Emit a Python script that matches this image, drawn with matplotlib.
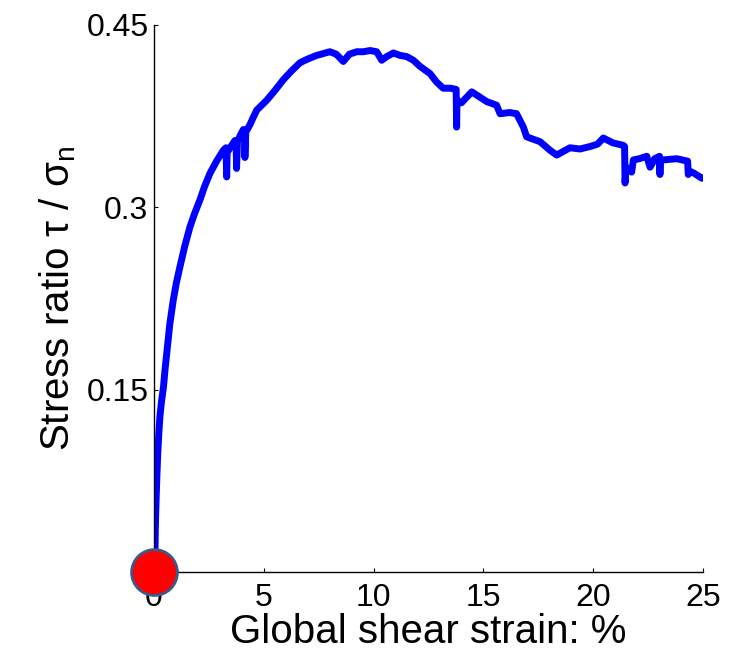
import matplotlib
matplotlib.use("Agg")
import matplotlib.pyplot as plt

plt.rcParams['font.family'] = ['Liberation Sans', 'DejaVu Sans']

strain = [0.0, 0.04, 0.06, 0.08, 0.10, 0.13, 0.17, 0.22, 0.27, 0.34, 0.43, 0.50, 0.58, 0.72, 0.88,
          1.02, 1.18, 1.40, 1.64, 1.85, 2.09, 2.30, 2.55, 2.85,
          3.16, 3.28, 3.31, 3.33, 3.5, 3.69, 3.74, 3.76, 3.80, 3.95, 4.07, 4.12, 4.14, 4.18,
          4.37, 4.52, 4.68, 5.13, 5.5, 5.89, 6.25, 6.65, 7.0, 7.41, 8.01, 8.3, 8.62, 8.9, 9.23, 9.53, 9.84,
          10.14, 10.37, 10.6, 10.90, 11.2, 11.51, 11.81, 12.11, 12.57, 12.87, 13.17, 13.5,
          13.76, 13.78, 13.80, 14.0, 14.47, 15.15, 15.6, 15.76, 16.2, 16.51, 16.82, 16.97,
          17.58, 18.03, 18.34, 18.94, 19.4, 19.85, 20.2, 20.46, 20.9, 21.37, 21.43, 21.45,
          21.5, 21.75, 21.83, 22.1, 22.44, 22.59, 22.8, 23.02, 23.04, 23.06, 23.19, 23.80,
          24.30, 24.33, 24.36, 24.6, 24.94, 25.0]
ratio = [0.0, 0.01, 0.035, 0.05, 0.062, 0.078, 0.097, 0.114, 0.128, 0.140, 0.152, 0.166, 0.180, 0.204, 0.224,
         0.238, 0.251, 0.268, 0.284, 0.295, 0.306, 0.317, 0.328, 0.338,
         0.347, 0.349, 0.325, 0.345, 0.350, 0.355, 0.352, 0.332, 0.354, 0.360, 0.364, 0.362, 0.341, 0.362,
         0.368, 0.374, 0.380, 0.388, 0.396, 0.405, 0.412, 0.419, 0.422, 0.425, 0.428, 0.426, 0.420, 0.426, 0.428, 0.428, 0.429,
         0.428, 0.421, 0.424, 0.427, 0.425, 0.424, 0.421, 0.416, 0.410, 0.403, 0.398, 0.398,
         0.397, 0.366, 0.388, 0.386, 0.395, 0.387, 0.384, 0.377, 0.378, 0.377, 0.366, 0.358,
         0.354, 0.347, 0.343, 0.349, 0.348, 0.350, 0.352, 0.357, 0.353, 0.351, 0.350, 0.320,
         0.333, 0.329, 0.339, 0.340, 0.342, 0.333, 0.340, 0.342, 0.327, 0.339, 0.339, 0.340,
         0.338, 0.327, 0.330, 0.328, 0.324, 0.324]

x_ticks = [0, 5, 10, 15, 20, 25]
y_ticks = [0.15, 0.3, 0.45]
y_tick_labels = ["0.15", "0.3", "0.45"]

fig = plt.figure(figsize=(7.29, 6.57), dpi=100)
ax = fig.add_axes([154/729, 1 - 572/657, (703 - 154)/729, (572 - 25)/657])

ax.plot(strain, ratio, color='#0000ff', lw=5, solid_capstyle='round', solid_joinstyle='round', zorder=2)
ax.plot([strain[0]], [ratio[0]], 'o', ms=33, mfc='#ff0000', mec='#3a5a8c', mew=2,
        clip_on=False, zorder=5)

ax.set_xlim(0, 25)
ax.set_ylim(0, 0.45)
ax.set_xticks(x_ticks)
ax.set_yticks(y_ticks)
ax.set_yticklabels(y_tick_labels)
for s in ['top', 'right']:
    ax.spines[s].set_visible(False)
for s in ['left', 'bottom']:
    ax.spines[s].set_linewidth(1.0)
ax.tick_params(direction='in', length=3, width=0.8, labelsize=23)
ax.tick_params(axis='x', pad=8)
ax.tick_params(axis='y', pad=4)

ax.set_xlabel("Global shear strain: %", fontsize=29, labelpad=0)
ax.set_ylabel(r"Stress ratio τ / σ$_\mathregular{n}$", fontsize=29, labelpad=6)

fig.savefig("out.png", dpi=100)
